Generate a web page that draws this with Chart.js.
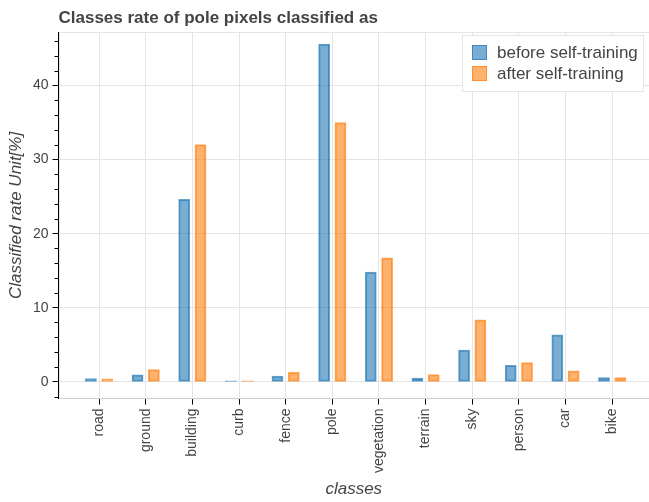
<!DOCTYPE html>
<html>
<head>
<meta charset="utf-8">
<script src="https://cdn.jsdelivr.net/npm/chart.js@4.4.1/dist/chart.umd.min.js"></script>
<style>
  html,body{margin:0;padding:0;background:#fff;}
  canvas{display:block;}
</style>
</head>
<body>
<canvas id="chart" width="649" height="502"></canvas>
<script>
const categories=['road','ground','building','curb','fence','pole','vegetation','terrain','sky','person','car','bike'];
const beforeST=[0.4,0.9,24.6,0.1,0.75,45.6,14.8,0.45,4.25,2.2,6.3,0.55];
const afterST=[0.35,1.6,32.0,0.08,1.25,35.0,16.7,0.95,8.35,2.55,1.45,0.55];
const yTicks=[0,10,20,30,40];

const FONT='"Liberation Sans", Arial, sans-serif';
const TXT='#444444';
const GRID='#e5e5e5';

// outline, minor ticks and the boxed legend inside the plot
const extras={
  id:'extras',
  beforeDatasetsDraw(chart){
    const {ctx,chartArea:a}=chart;
    ctx.save(); ctx.strokeStyle=GRID; ctx.lineWidth=1;
    ctx.strokeRect(Math.round(a.left)+0.5,Math.round(a.top)+0.5,a.right-a.left,a.bottom-a.top);
    ctx.restore();
  },
  afterDatasetsDraw(chart){
    const {ctx}=chart;
    const x=462.5,y=35.5,w=181,h=56;
    ctx.save();
    ctx.fillStyle='#fff'; ctx.fillRect(x,y,w,h);
    ctx.strokeStyle=GRID; ctx.lineWidth=1; ctx.strokeRect(x,y,w,h);
    ctx.font='17px '+FONT; ctx.textBaseline='middle';
    chart.data.datasets.forEach((ds,i)=>{
      const sy=45+i*21;
      ctx.fillStyle=ds.backgroundColor; ctx.fillRect(472,sy,15,15);
      ctx.strokeStyle=ds.borderColor; ctx.lineWidth=1; ctx.strokeRect(472.5,sy+0.5,14,14);
      ctx.fillStyle=TXT; ctx.fillText(ds.label,497,sy+8);
    });
    ctx.restore();
  },
  afterDraw(chart){
    const {ctx}=chart; const s=chart.scales.y;
    ctx.save(); ctx.strokeStyle='#000'; ctx.lineWidth=1;
    s.ticks.forEach(t=>{
      if(yTicks.includes(t.value))return;
      const py=Math.round(s.getPixelForValue(t.value))+0.5;
      ctx.beginPath(); ctx.moveTo(s.right-4,py); ctx.lineTo(s.right,py); ctx.stroke();
    });
    ctx.restore();
  }
};

new Chart(document.getElementById('chart'),{
  type:'bar',
  data:{datasets:[
    {label:'before self-training',data:categories.map((c,i)=>({x:i,y:beforeST[i]})),
      backgroundColor:'rgba(31,119,180,0.6)',borderColor:'rgba(31,119,180,0.66)',borderWidth:1,borderSkipped:false,inflateAmount:0.5},
    {label:'after self-training',data:categories.map((c,i)=>({x:i,y:afterST[i]})),
      backgroundColor:'rgba(255,127,14,0.6)',borderColor:'rgba(255,127,14,0.66)',borderWidth:1,borderSkipped:false,inflateAmount:0.5}
  ]},
  options:{
    responsive:false,animation:false,devicePixelRatio:1,
    layout:{padding:0},
    datasets:{bar:{categoryPercentage:0.7,barPercentage:0.66}},
    plugins:{
      legend:{display:false},tooltip:{enabled:false},
      title:{display:true,text:'Classes rate of pole pixels classified as',align:'start',fullSize:false,
        color:TXT,font:{family:FONT,size:17,weight:'bold',lineHeight:1.2},padding:{top:8,bottom:4}}
    },
    scales:{
      x:{type:'linear',position:'bottom',min:-0.87,max:11.79,offset:false,
        afterBuildTicks:s=>{s.ticks=categories.map((c,i)=>({value:i}));},
        afterFit:s=>{s.height=502-398.5;},
        grid:{color:GRID,offset:false,drawTicks:true,tickLength:6,tickColor:'#000'},
        border:{color:'#000',width:1},
        ticks:{autoSkip:false,minRotation:90,maxRotation:90,padding:4,color:TXT,font:{family:FONT,size:14},
          callback:v=>categories[v]},
        title:{display:true,text:'classes',color:TXT,font:{family:FONT,size:17,style:'italic',lineHeight:1.2},padding:{top:0,bottom:3}}
      },
      y:{min:-2.27,max:47.19,
        afterBuildTicks:s=>{const t=[];for(let v=-2;v<=46;v+=2)t.push({value:v});s.ticks=t;},
        afterFit:s=>{s.width=58.5;},
        grid:{color:c=>yTicks.includes(c.tick.value)?GRID:'transparent',tickLength:6,
          tickColor:c=>yTicks.includes(c.tick.value)?'#000':'transparent'},
        border:{color:'#000',width:1},
        ticks:{autoSkip:false,padding:4,color:TXT,font:{family:FONT,size:14},callback:v=>yTicks.includes(v)?String(v):''},
        title:{display:true,text:'Classified rate Unit[%]',color:TXT,font:{family:FONT,size:17,style:'italic',lineHeight:1.2},padding:{top:6,bottom:0}}
      }
    }
  },
  plugins:[extras]
});
</script>
</body>
</html>
